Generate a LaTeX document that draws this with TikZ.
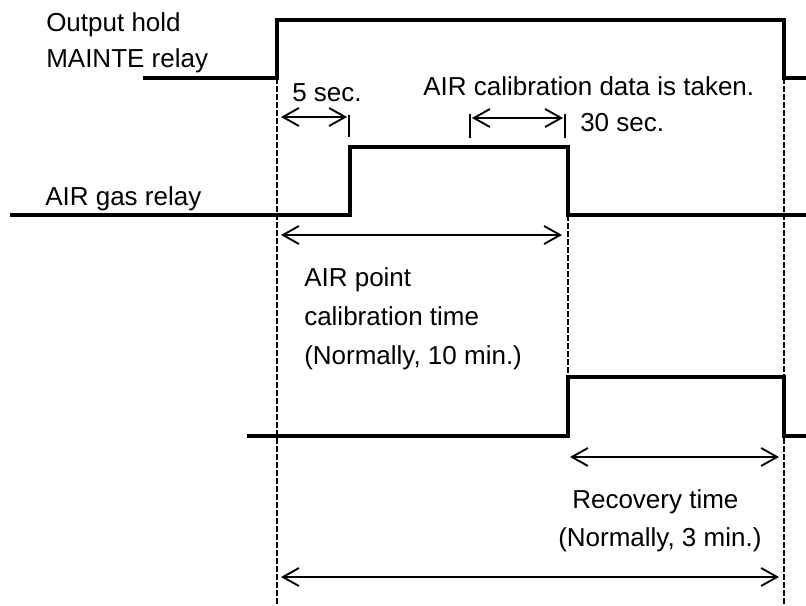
\documentclass[tikz,border=0pt]{standalone}
\usepackage{fontspec}
\setmainfont{Liberation Sans}
\usetikzlibrary{arrows.meta}
\begin{document}
\begin{tikzpicture}[x=0.75pt,y=-0.75pt,
  signal/.style={line width=3pt, line join=miter},
  guide/.style={line width=0.8pt, dash pattern=on 4.5pt off 1.5pt},
  span/.style={line width=1.4pt, {Straight Barb[length=12pt,width=13.5pt,line width=1.4pt]}-{Straight Barb[length=12pt,width=13.5pt,line width=1.4pt]}},
  tickmark/.style={line width=1.1pt},
  lbl/.style={inner sep=0pt, anchor=base west, font=\fontsize{19.5}{23}\selectfont}]
\useasboundingbox (0,0) rectangle (806,606);
% guides
\coordinate (gL1) at (277,78); \coordinate (gL2) at (277,606);
\coordinate (gM1) at (568,215); \coordinate (gM2) at (568,377);
\coordinate (gR1) at (784,78); \coordinate (gR2) at (784,606);
\draw[guide] (gL1) -- (gL2);
\draw[guide] (gM1) -- (gM2);
\draw[guide] (gR1) -- (gR2);
% MAINTE relay
\coordinate (m0) at (143,78); \coordinate (m1) at (277,78); \coordinate (m2) at (277,20);
\coordinate (m3) at (784,20); \coordinate (m4) at (784,78); \coordinate (m5) at (806,78);
\draw[signal] (m0) -- (m1) -- (m2) -- (m3) -- (m4) -- (m5);
% AIR gas relay
\coordinate (g0) at (10,215); \coordinate (g1) at (350,215); \coordinate (g2) at (350,147);
\coordinate (g3) at (568,147); \coordinate (g4) at (568,215); \coordinate (g5) at (806,215);
\draw[signal] (g0) -- (g1) -- (g2) -- (g3) -- (g4) -- (g5);
% third signal
\coordinate (r0) at (247,436); \coordinate (r1) at (568,436); \coordinate (r2) at (568,377);
\coordinate (r3) at (784,377); \coordinate (r4) at (784,436); \coordinate (r5) at (806,436);
\draw[signal] (r0) -- (r1) -- (r2) -- (r3) -- (r4) -- (r5);
% ticks
\coordinate (k1a) at (349,115); \coordinate (k1b) at (349,137);
\coordinate (k2a) at (470,114); \coordinate (k2b) at (470,138);
\coordinate (k3a) at (565,114); \coordinate (k3b) at (565,138);
\draw[tickmark] (k1a) -- (k1b);
\draw[tickmark] (k2a) -- (k2b);
\draw[tickmark] (k3a) -- (k3b);
% spans
\coordinate (a1L) at (281,117); \coordinate (a1R) at (347,117);
\coordinate (a2L) at (472,118); \coordinate (a2R) at (563,118);
\coordinate (a3L) at (281,235); \coordinate (a3R) at (562,235);
\coordinate (a4L) at (570,457); \coordinate (a4R) at (779,457);
\coordinate (a5L) at (281,577); \coordinate (a5R) at (779,577);
\draw[span] (a1L) -- (a1R);
\draw[span] (a2L) -- (a2R);
\draw[span] (a3L) -- (a3R);
\draw[span] (a4L) -- (a4R);
\draw[span] (a5L) -- (a5R);
% labels
\node[lbl] (t1) at (46,32) {Output hold};
\node[lbl] (t2) at (46,68) {MAINTE relay};
\node[lbl] (t3) at (45,205) {AIR gas relay};
\node[lbl] (t4) at (292,102) {5 sec.};
\node[lbl] (t5) at (423,96) {AIR calibration data is taken.};
\node[lbl] (t6) at (580,132) {30 sec.};
\node[lbl] (t7) at (304,286) {AIR point};
\node[lbl] (t8) at (304,325) {calibration time};
\node[lbl] (t9) at (304,364) {(Normally, 10 min.)};
\node[lbl] (t10) at (572,508) {Recovery time};
\node[lbl] (t11) at (558,546) {(Normally, 3 min.)};
\end{tikzpicture}
\end{document}
